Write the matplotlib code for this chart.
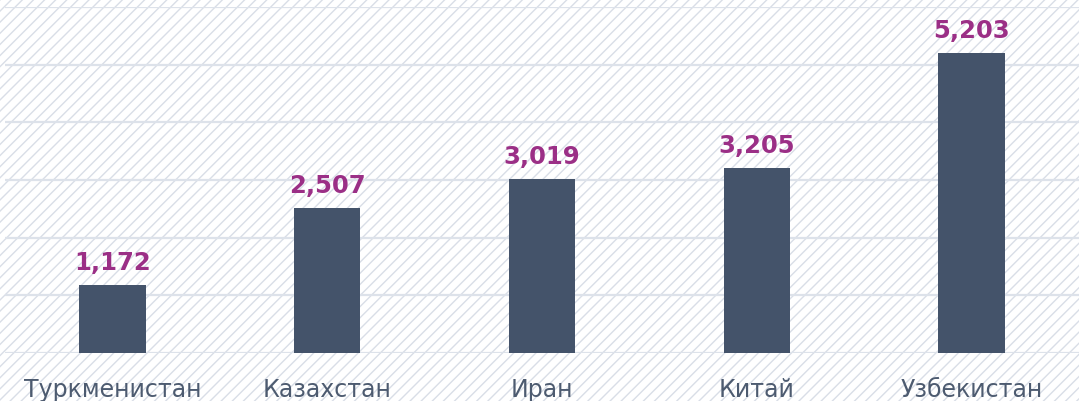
import matplotlib.pyplot as plt
from matplotlib.patches import Rectangle

countries = ["Туркменистан", "Казахстан", "Иран", "Китай", "Узбекистан"]
values = [1172, 2507, 3019, 3205, 5203]

plt.rcParams["hatch.linewidth"] = 1.0

fig = plt.figure(figsize=(10.79, 4.02), dpi=100)
fig.patch.set_facecolor("white")

# diagonal hatch over the whole background
bg = Rectangle((0, 0), 1, 1, transform=fig.transFigure, facecolor="white",
               edgecolor="#d9dee7", hatch="///", linewidth=0, zorder=-10)
fig.patches.append(bg)

ax = fig.add_axes([5 / 1079, 1 - 354 / 402, 1074 / 1079, 346 / 402])
ax.patch.set_alpha(0)

x = range(len(countries))
bars = ax.bar(x, values, width=0.31, color="#44536a", zorder=3)

for b, v in zip(bars, values):
    ax.annotate(f"{v:,}", (b.get_x() + b.get_width() / 2, v),
                xytext=(0, 8), textcoords="offset points",
                ha="center", va="bottom", fontsize=17.5, fontweight="bold",
                color="#9b2f86")

ax.set_xlim(-0.5, len(countries) - 0.5)
ax.set_ylim(0, 6000)
ax.set_yticks(range(0, 6001, 1000))
ax.yaxis.grid(True, color="#dde2ea", linewidth=1.6, zorder=0)
ax.set_axisbelow(True)
ax.tick_params(axis="y", left=False, labelleft=False)
ax.tick_params(axis="x", bottom=False, pad=14)
ax.set_xticks(list(x))
ax.set_xticklabels(countries, fontsize=17, color="#4d5b70")
for s in ax.spines.values():
    s.set_visible(False)

fig.savefig("out.png", dpi=100)
